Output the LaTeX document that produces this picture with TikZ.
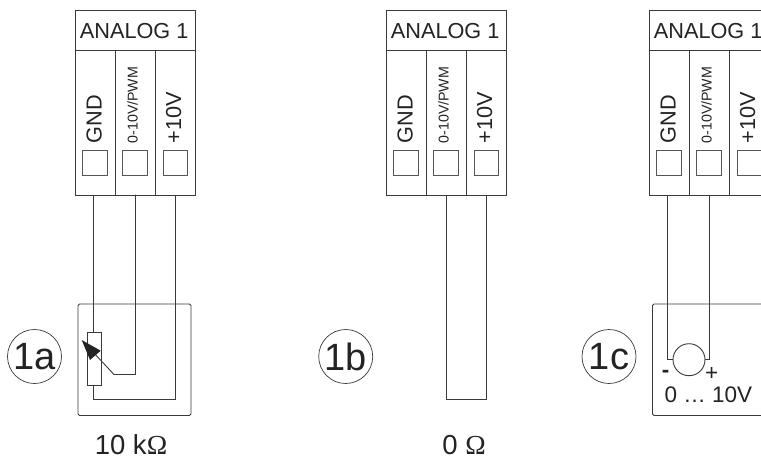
\documentclass[tikz,border=0pt]{standalone}
\usepackage{fontspec}
\setmainfont{Liberation Sans}
\newfontfamily\omegafont{Liberation Serif}
\definecolor{ink}{HTML}{232323}
\definecolor{wirec}{HTML}{3A3A3A}
\definecolor{padc}{HTML}{555555}
\tikzset{
  wire/.style={draw=wirec,line width=0.9pt},
  cell/.style={draw=wirec,line width=0.9pt,anchor=north west,inner sep=0pt,text=ink},
  hdr/.style={cell,minimum width=120pt,minimum height=40pt,font=\fontsize{21.7}{22}\selectfont},
  slot/.style={cell,minimum width=40pt,minimum height=145pt},
  pad/.style={draw=padc,line width=0.8pt,anchor=north west,minimum width=24.5pt,minimum height=24.5pt,inner sep=0pt},
  vlabel/.style={rotate=90,anchor=base west,inner sep=0pt,text=ink,font=\fontsize{21.7}{22}\selectfont},
  vsmall/.style={vlabel,font=\fontsize{14.2}{15}\selectfont},
  tag/.style={draw=wirec,line width=0.7pt,circle,minimum size=54pt,inner sep=0pt,text=ink,font=\fontsize{38}{38}\selectfont},
  txt/.style={inner sep=0pt,text=ink,font=\fontsize{27.5}{28}\selectfont},
  smalltxt/.style={inner sep=0pt,text=ink,font=\fontsize{22.5}{23}\selectfont},
  device/.style={wire,rounded corners=1.5pt},
  res/.style={draw=wirec,line width=0.9pt,minimum width=14pt,minimum height=52.5pt,inner sep=0pt},
  meter/.style={draw=wirec,line width=0.9pt,circle,minimum size=32pt,inner sep=0pt},
}
\newcommand{\terminal}[2]{%
  \node[hdr] (#1h) at (#2,9.5) {};
  \node[inner sep=0pt,anchor=base,text=ink,font=\fontsize{21.7}{22}\selectfont] (#1t) at (#2+59.7,38.3) {ANALOG 1};
  \node[slot] (#1s1) at (#2,49.5) {};
  \node[slot] (#1s2) at (#2+40,49.5) {};
  \node[slot] (#1s3) at (#2+80,49.5) {};
  \node[pad] (#1p1) at (#2+7.5,150) {};
  \node[pad] (#1p2) at (#2+47.5,150) {};
  \node[pad] (#1p3) at (#2+88,150) {};
  \node[vlabel] (#1l1) at (#2+27.2,143.5) {GND};
  \node[vsmall] (#1l2) at (#2+63.2,143.5) {0-10V/PWM};
  \node[vlabel] (#1l3) at (#2+106.5,143.5) {+10V};
  \coordinate (#1w1) at (#2+19,194.5);
  \coordinate (#1w2) at (#2+61,194.5);
  \coordinate (#1w3) at (#2+101,194.5);
}
\begin{document}
\begin{tikzpicture}[x=1pt,y=-1pt]
\clip (0,0) rectangle (761,459);
\fill[white] (0,0) rectangle (761,459);
\terminal{a}{74.5}
\terminal{b}{385.5}
\terminal{c}{648.5}

% 1a
\node[tag] (taga) at (34.5,356.5) {1a};
\coordinate (boxaNW) at (78,304);
\coordinate (boxaSE) at (191,415.5);
\draw[device] (boxaNW) rectangle (boxaSE);
\node[res] (pot) at (94.5,358.7) {};
\coordinate (wiper) at (114,374.5);
\coordinate (potlow) at (93.5,399.5);
\coordinate (tip) at (81.7,340);
\draw[wire] (aw1) -- (aw1 |- pot.north);
\draw[wire] (aw2) -- (aw2 |- wiper) -- (wiper) -- (93,352);
\draw[wire] (aw1 |- pot.south) -- (potlow) -- (aw3 |- potlow) -- (aw3);
\fill[ink] (tip) -- (100.7,350.7) -- (90,360) -- cycle;
\node[txt,anchor=base] (vala) at (131,454) {10 k{\omegafont Ω}};

% 1b
\node[tag] (tagb) at (345.7,356.5) {1b};
\coordinate (bcl) at (bw2 |- 0,399.5);
\coordinate (bcr) at (bw3 |- 0,399.5);
\draw[wire] (bw2) -- (bcl) -- (bcr) -- (bw3);
\node[txt,anchor=base] (valb) at (464,454) {0 {\omegafont Ω}};

% 1c
\node[tag] (tagc) at (609,356.5) {1c};
\coordinate (boxcNW) at (652.5,304);
\coordinate (boxcSW) at (652.5,415.5);
\draw[device] (770,304) -- (boxcNW) -- (boxcSW) -- (770,415.5);
\node[meter] (volt) at (689,359.7) {};
\draw[wire] (cw1) -- (cw1 |- volt.west) -- (volt.west);
\draw[wire] (cw2) -- (cw2 |- volt.east) -- (volt.east);
\node[smalltxt,font=\bfseries\fontsize{22.5}{23}\selectfont] (minus) at (665.7,373.5) {-};
\node[smalltxt] (plus) at (711.7,373.5) {+};
\node[smalltxt,anchor=base west] (range) at (664.5,402.5) {0 … 10V};
\end{tikzpicture}
\end{document}
